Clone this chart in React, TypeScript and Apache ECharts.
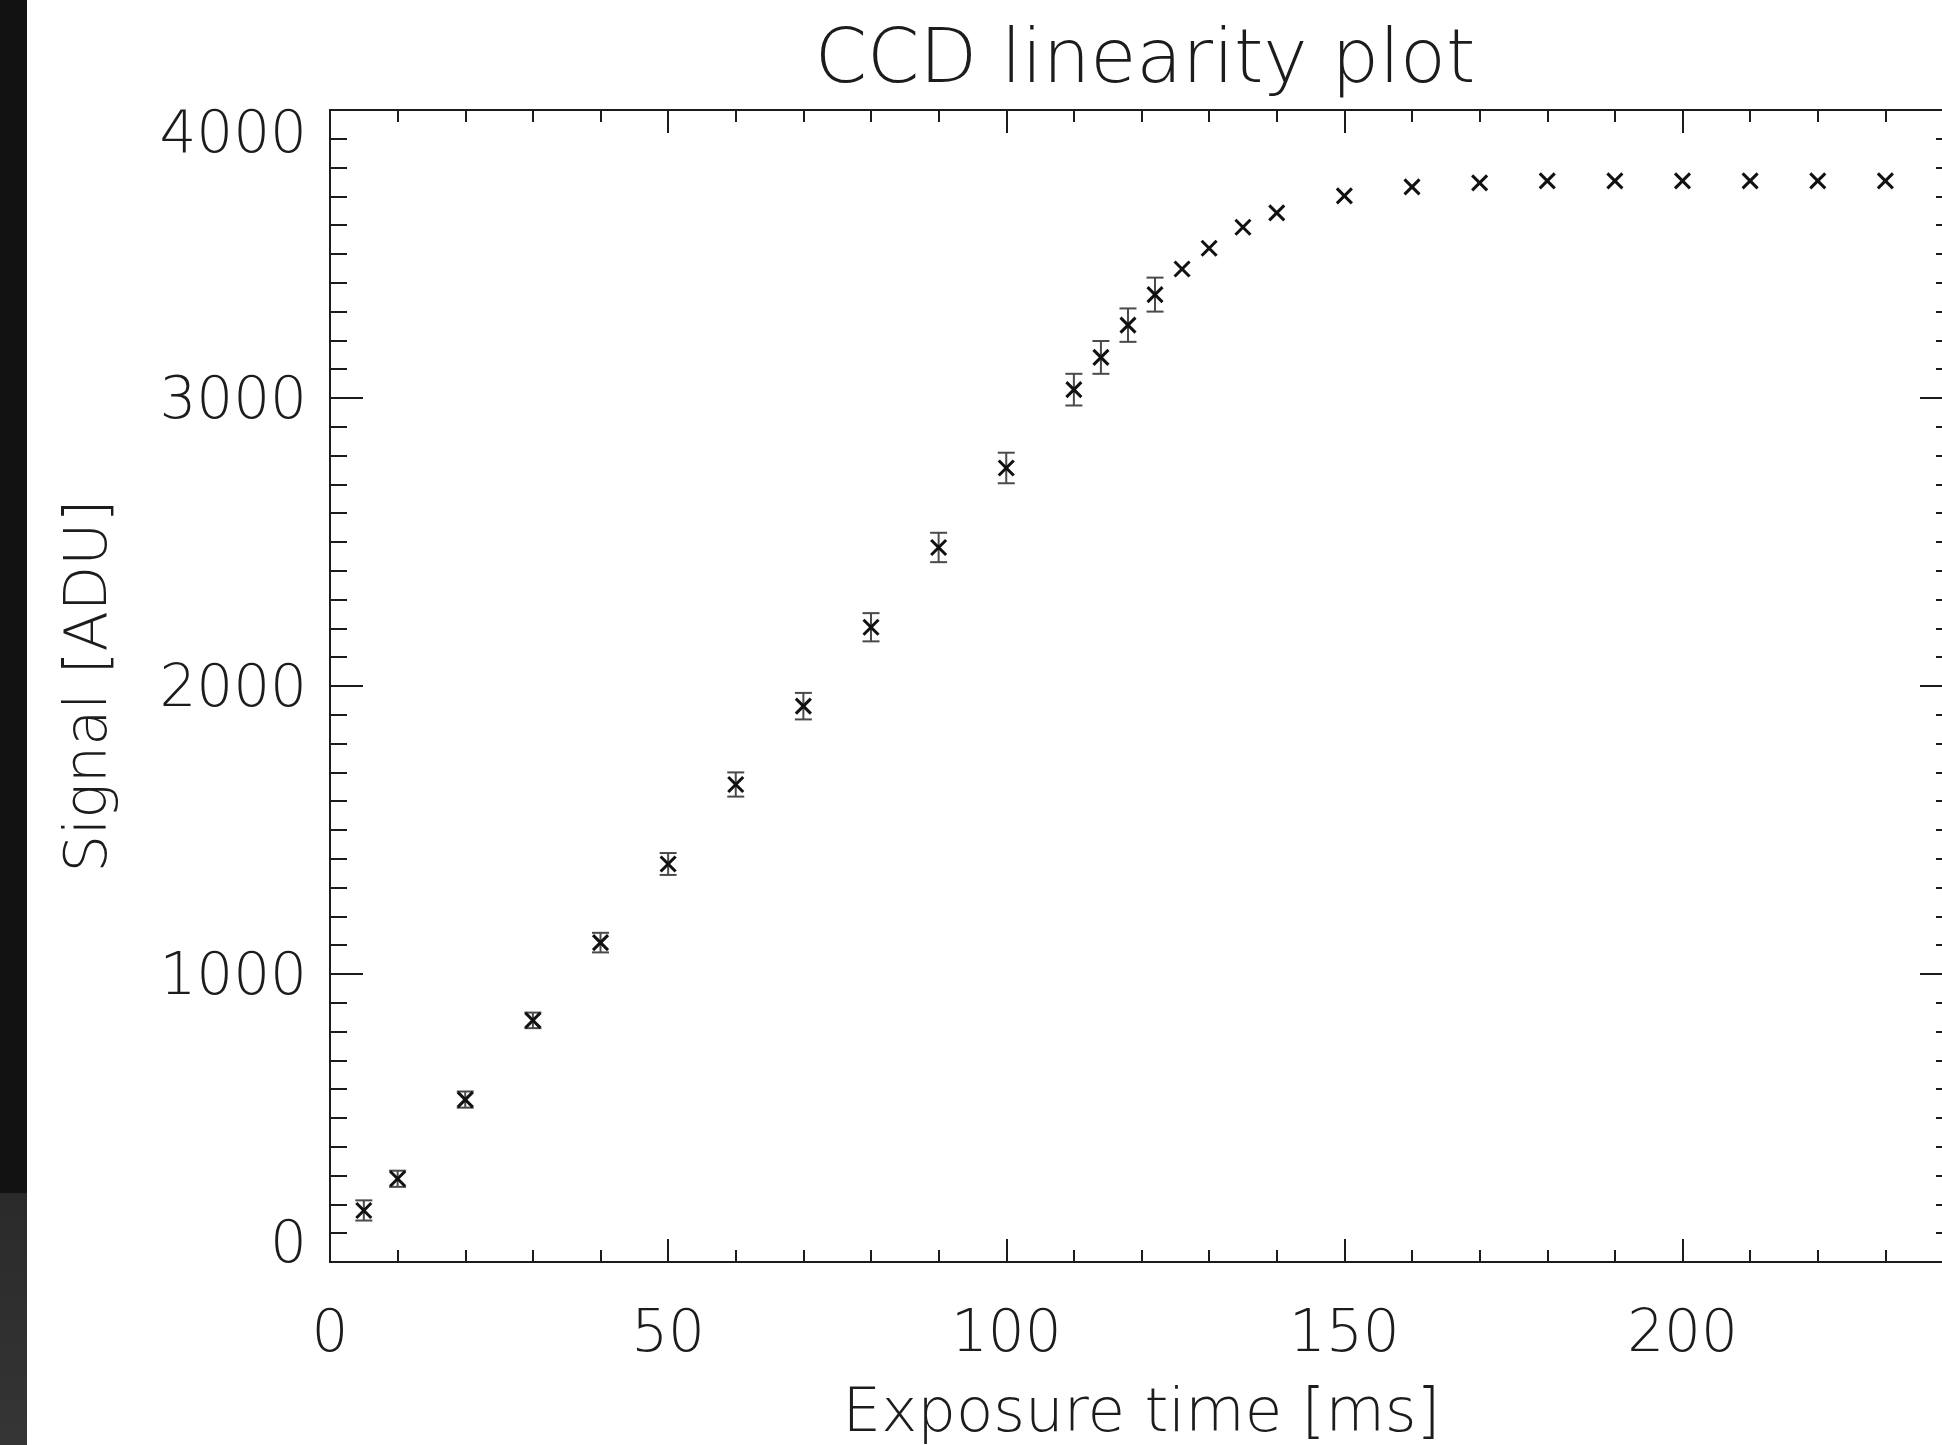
import React, { useEffect, useRef } from 'react';
import * as echarts from 'echarts';

// ---- data ----
const exposureMs = [5, 10, 20, 30, 40, 50, 60, 70, 80, 90, 100, 110, 114, 118, 122, 126, 130, 135, 140, 150, 160, 170, 180, 190, 200, 210, 220, 230];
const signalAdu = [179, 289, 564, 839, 1109, 1382, 1658, 1930, 2204, 2481, 2757, 3029, 3141, 3253, 3359, 3448, 3520, 3593, 3643, 3702, 3733, 3747, 3754, 3754, 3754, 3754, 3754, 3754];
const signalErr = [35, 28, 28, 27, 34, 38, 42, 46, 49, 51, 53, 55, 57, 58, 59, 0, 0, 0, 0, 0, 0, 0, 0, 0, 0, 0, 0, 0];

const xRange = [0, 240];
const yRange = [0, 4000];
const xMajorStep = 50;
const xMinorStep = 10;
const yMajorStep = 1000;
const yMinorStep = 100;

const titleText = 'CCD linearity plot';
const xTitle = 'Exposure time [ms]';
const yTitle = 'Signal [ADU]';

const FONT = "'DejaVu Sans', 'Liberation Sans', sans-serif";
const INK = '#1c1c1c';

export default function App() {
  const ref = useRef<HTMLDivElement>(null);

  useEffect(() => {
    if (!ref.current) return;
    const chart = echarts.init(ref.current, undefined, { renderer: 'svg' });

    const data = exposureMs.map((x, i) => [x, signalAdu[i], signalErr[i]]);

    const baseX = (position: 'top' | 'bottom', step: number, len: number, main: boolean) => ({
      type: 'value',
      gridIndex: 0,
      position,
      min: xRange[0],
      max: xRange[1],
      interval: step,
      axisLine: { show: main, onZero: false, lineStyle: { color: INK, width: 2 } },
      axisTick: { show: true, inside: true, length: len, lineStyle: { color: INK, width: 2 } },
      splitLine: { show: false },
      axisLabel: { show: false },
    });
    const baseY = (position: 'left' | 'right', step: number, len: number, main: boolean) => ({
      type: 'value',
      gridIndex: 0,
      position,
      min: yRange[0],
      max: yRange[1],
      interval: step,
      axisLine: { show: main, onZero: false, lineStyle: { color: INK, width: 2 } },
      axisTick: { show: true, inside: true, length: len, lineStyle: { color: INK, width: 2 } },
      splitLine: { show: false },
      axisLabel: { show: false },
    });

    const xMain: any = baseX('bottom', xMajorStep, 23, true);
    xMain.axisLabel = {
      show: true,
      showMaxLabel: false,
      margin: 40,
      fontSize: 58,
      fontFamily: FONT,
      fontWeight: 300,
      color: INK,
    };
    xMain.name = xTitle;
    xMain.nameLocation = 'middle';
    xMain.nameGap = 117;
    xMain.nameTextStyle = { fontSize: 61, fontFamily: FONT, fontWeight: 300, color: INK };

    const yMain: any = baseY('left', yMajorStep, 33, true);
    yMain.axisLabel = {
      show: true,
      margin: 23,
      fontSize: 58,
      fontFamily: FONT,
      fontWeight: 300,
      color: INK,
      formatter: (v: number) => (v === yRange[1] ? `{hi|${v}}` : v === yRange[0] ? `{lo|${v}}` : `${v}`),
      rich: {
        hi: { fontSize: 58, fontFamily: FONT, fontWeight: 300, color: INK, padding: [44, 0, 0, 0] },
        lo: { fontSize: 58, fontFamily: FONT, fontWeight: 300, color: INK, padding: [0, 0, 40, 0] },
      },
    };
    yMain.name = yTitle;
    yMain.nameLocation = 'middle';
    yMain.nameGap = 215;
    yMain.nameRotate = 90;
    yMain.nameTextStyle = { fontSize: 59, fontFamily: FONT, fontWeight: 300, color: INK };

    const option: any = {
      animation: false,
      backgroundColor: '#ffffff',
      title: {
        text: titleText,
        left: 1140,
        top: 13,
        textAlign: 'center',
        textStyle: { fontSize: 75, fontFamily: FONT, fontWeight: 300, color: INK },
      },
      graphic: [
        { type: 'rect', shape: { x: 0, y: 0, width: 27, height: 1193 }, style: { fill: '#121212' }, silent: true },
        {
          type: 'rect',
          shape: { x: 0, y: 1193, width: 27, height: 252 },
          style: {
            fill: new echarts.graphic.LinearGradient(0, 0, 0, 1, [
              { offset: 0, color: '#2a2a2a' },
              { offset: 1, color: '#353535' },
            ]),
          },
          silent: true,
        },
      ],
      grid: { left: 330, top: 110, width: 1623, height: 1152, containLabel: false },
      xAxis: [
        xMain,
        baseX('bottom', xMinorStep, 12, false),
        baseX('top', xMajorStep, 23, true),
        baseX('top', xMinorStep, 12, false),
      ],
      yAxis: [
        yMain,
        baseY('left', yMinorStep, 17, false),
        baseY('right', yMajorStep, 33, true),
        baseY('right', yMinorStep, 17, false),
      ],
      series: [
        {
          type: 'custom',
          xAxisIndex: 0,
          yAxisIndex: 0,
          data,
          renderItem: (params: any, api: any) => {
            const x = api.value(0);
            const y = api.value(1);
            const e = api.value(2);
            const c = api.coord([x, y]);
            const s = 7.5;
            const children: any[] = [];
            if (e > 0) {
              const top = api.coord([x, y + e]);
              const bot = api.coord([x, y - e]);
              const w = 8.5;
              const st = { stroke: '#4a4a4a', lineWidth: 2 };
              children.push({ type: 'line', shape: { x1: c[0], y1: top[1], x2: c[0], y2: bot[1] }, style: st });
              children.push({ type: 'line', shape: { x1: c[0] - w, y1: top[1], x2: c[0] + w, y2: top[1] }, style: st });
              children.push({ type: 'line', shape: { x1: c[0] - w, y1: bot[1], x2: c[0] + w, y2: bot[1] }, style: st });
            }
            const ms = { stroke: '#111111', lineWidth: 3 };
            children.push({ type: 'line', shape: { x1: c[0] - s, y1: c[1] - s, x2: c[0] + s, y2: c[1] + s }, style: ms });
            children.push({ type: 'line', shape: { x1: c[0] - s, y1: c[1] + s, x2: c[0] + s, y2: c[1] - s }, style: ms });
            return { type: 'group', children };
          },
        },
      ],
    };

    chart.setOption(option);
    return () => chart.dispose();
  }, []);

  return (
    <div style={{ position: 'fixed', left: 0, top: 0, width: 1942, height: 1445, overflow: 'hidden', background: '#fff' }}>
      <div ref={ref} style={{ width: 1960, height: 1445 }} />
    </div>
  );
}
